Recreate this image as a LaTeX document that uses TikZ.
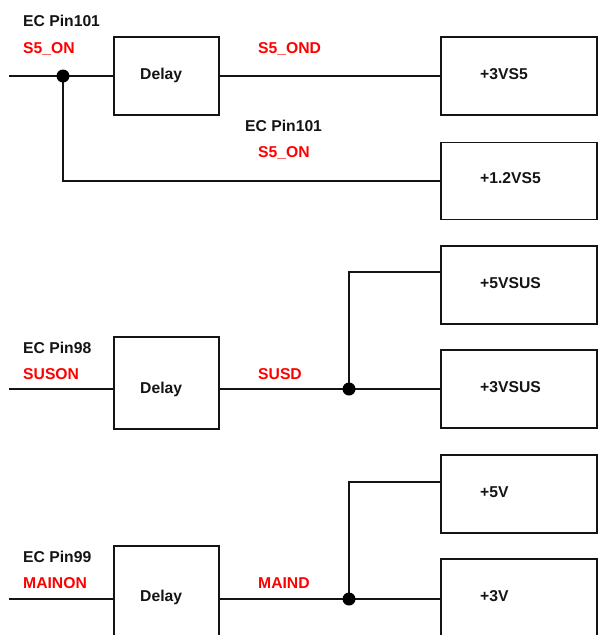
\documentclass[tikz,border=0pt]{standalone}
\usepackage{fontspec}
\setmainfont{Liberation Sans}
\definecolor{sigred}{RGB}{255,0,0}
\definecolor{ink}{RGB}{20,20,20}
\begin{document}
\begin{tikzpicture}[x=1pt,y=-1pt,
  wire/.style={line width=1.1pt, draw=ink},
  blk/.style={draw=ink, line width=1.1pt, rectangle, inner sep=0pt},
  lbl/.style={anchor=base west, inner sep=0pt, text=ink, font=\fontsize{15.7}{18}\selectfont\bfseries},
  sig/.style={lbl, text=sigred},
  jdot/.style={circle, fill=black, inner sep=0pt, minimum size=13pt}]
\useasboundingbox (0,0) rectangle (606,635);
\clip (0,0) rectangle (606,635);
% boxes
\node[blk, minimum width=105pt, minimum height=78pt] (d1) at (166.5,76) {};
\node[blk, minimum width=156pt, minimum height=78pt] (b1) at (519,76) {};
\node[blk, minimum width=156pt, minimum height=77pt] (b2) at (519,181) {};
\node[blk, minimum width=105pt, minimum height=92pt] (d2) at (166.5,383) {};
\node[blk, minimum width=156pt, minimum height=78pt] (b3) at (519,285) {};
\node[blk, minimum width=156pt, minimum height=78pt] (b4) at (519,389) {};
\node[blk, minimum width=105pt, minimum height=92pt] (d3) at (166.5,592) {};
\node[blk, minimum width=156pt, minimum height=78pt] (b5) at (519,494) {};
\node[blk, minimum width=156pt, minimum height=78pt] (b6) at (519,598) {};
% coordinates
\coordinate (in1) at (9,76);
\coordinate (in2) at (9,389);
\coordinate (in3) at (9,599);
\coordinate (t2) at (349,272);
\coordinate (t3) at (349,482);
% wires
\draw[wire] (in1) -- (in1 -| d1.west);
\draw[wire] (d1.east |- in1) -- (in1 -| b1.west);
\draw[wire] (63,76) |- (b2.west);
\draw[wire] (in2) -- (in2 -| d2.west);
\draw[wire] (d2.east |- in2) -- (in2 -| b4.west);
\draw[wire] (349,389) -- (t2) -- (t2 -| b3.west);
\draw[wire] (in3) -- (in3 -| d3.west);
\draw[wire] (d3.east |- in3) -- (in3 -| b6.west);
\draw[wire] (349,599) -- (t3) -- (t3 -| b5.west);
% junctions
\node[jdot] (j1) at (63,76) {};
\node[jdot] (j2) at (349,389) {};
\node[jdot] (j3) at (349,599) {};
% texts
\node[lbl] (ec1) at (23,26.7) {EC Pin101};
\node[sig] (s5on) at (23,53) {S5\_ON};
\node[sig] (s5ond) at (258,53) {S5\_OND};
\node[lbl] (dl1) at (140,79) {Delay};
\node[lbl] (v1) at (480,79.5) {+3VS5};
\node[lbl] (ec1b) at (245,131.7) {EC Pin101};
\node[sig] (s5onb) at (258,157.7) {S5\_ON};
\node[lbl] (v2) at (480,183.5) {+1.2VS5};
\node[lbl] (v3) at (480,288.5) {+5VSUS};
\node[lbl] (ec2) at (23,353.5) {EC Pin98};
\node[sig] (suson) at (23,379) {SUSON};
\node[sig] (susd) at (258,379) {SUSD};
\node[lbl] (dl2) at (140,393) {Delay};
\node[lbl] (v4) at (480,392.5) {+3VSUS};
\node[lbl] (v5) at (480,497.5) {+5V};
\node[lbl] (ec3) at (23,562.5) {EC Pin99};
\node[sig] (mainon) at (23,588.5) {MAINON};
\node[sig] (maind) at (258,588.5) {MAIND};
\node[lbl] (dl3) at (140,601) {Delay};
\node[lbl] (v6) at (480,601) {+3V};
\end{tikzpicture}
\end{document}
